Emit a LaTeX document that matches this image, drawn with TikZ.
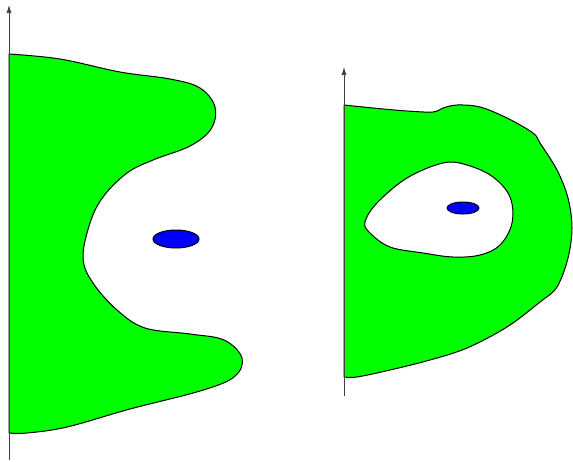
\documentclass[tikz,border=0pt]{standalone}
\usetikzlibrary{arrows.meta,shapes.geometric}
\definecolor{regiongreen}{RGB}{0,255,0}
\definecolor{blobblue}{RGB}{0,0,255}
\tikzset{
  region/.style={fill=regiongreen, draw=black, line width=1pt, line join=round},
  axis/.style={draw=black!75, line width=0.7pt, -{Latex[length=8pt,width=5pt]}},
  blob/.style={ellipse, fill=blobblue, draw=black, line width=1pt, inner sep=0pt},
}
\begin{document}
\begin{tikzpicture}[x=1pt,y=-1pt]
\useasboundingbox (0,0) rectangle (573,461);
% left region
\path[region] plot[smooth, tension=0.6] coordinates {
 (9,54) (60,59) (120,72) (170,79) (200,88) (215,107) (211,129) (190,146)
 (153,160) (127,173) (103,197) (90,223) (83,258) (93,283)
 (117,310) (145,328) (190,334) (224,340) (242,358) (234,377)
 (200,391) (130,409) (67,427) (27,433) (9,433)} -- cycle;
% right region with hole
\path[region, even odd rule]
 plot[smooth, tension=0.55] coordinates {
 (344,105) (373,108) (407,111) (433,112) (443,108) (457,105) (480,107) (507,118)
 (533,133) (540,143) (557,170) (568,198) (572,228) (568,258) (557,287) (540,302)
 (507,327) (467,348) (430,360) (390,370) (357,377) (344,377)} -- cycle
 plot[smooth cycle, tension=0.6] coordinates {
 (365,222) (377,203) (407,178) (443,163) (467,165) (493,177) (510,197) (512,223)
 (500,245) (480,255) (453,257) (423,253) (390,247) (370,233)};
% axes
\coordinate (la0) at (9,460);
\coordinate (la1) at (9,5);
\coordinate (ra0) at (344,396);
\coordinate (ra1) at (344,67);
\draw[axis] (la0) -- (la1);
\draw[axis] (ra0) -- (ra1);
% blobs
\node[blob, minimum width=46pt, minimum height=18pt] (lblob) at (176,239) {};
\node[blob, minimum width=32pt, minimum height=12pt] (rblob) at (463,208) {};
\end{tikzpicture}
\end{document}
